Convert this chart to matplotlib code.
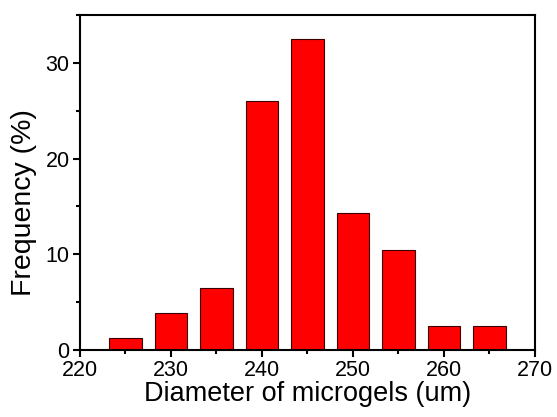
import matplotlib.pyplot as plt
from matplotlib.ticker import MultipleLocator

plt.rcParams['font.family'] = ['Liberation Sans', 'DejaVu Sans']

##### Data #####
diameters = [225, 230, 235, 240, 245, 250, 255, 260, 265]  # bin centers (um)
frequency = [1.25, 3.9, 6.5, 26.0, 32.5, 14.3, 10.4, 2.5, 2.5]  # percent

##### Plot #####
fig = plt.figure(figsize=(5.57, 4.17), dpi=100)
ax = fig.add_axes([0.1436, 0.1607, 0.8169, 0.8033])

ax.bar(diameters, frequency, width=3.6, color='#ff0000',
       edgecolor='#3a0000', linewidth=0.8, zorder=2)

ax.set_xlim(220, 270)
ax.set_ylim(0, 35)
ax.xaxis.set_major_locator(MultipleLocator(10))
ax.xaxis.set_minor_locator(MultipleLocator(5))
ax.yaxis.set_major_locator(MultipleLocator(10))
ax.yaxis.set_minor_locator(MultipleLocator(5))

for s in ax.spines.values():
    s.set_linewidth(1.5)
ax.tick_params(which='major', direction='out', length=5, width=1.5,
               labelsize=15.5, pad=2.5, top=False, right=False)
ax.tick_params(which='minor', direction='out', length=3, width=1.5,
               top=False, right=False)

ax.set_xlabel("Diameter of microgels (um)", fontsize=19.5, labelpad=0)
ax.set_ylabel("Frequency (%)", fontsize=20.5)
# the label sits a bit below the axis centre in the original
ax.yaxis.set_label_coords(-0.095, 0.44)

fig.savefig("out.png", dpi=100)
